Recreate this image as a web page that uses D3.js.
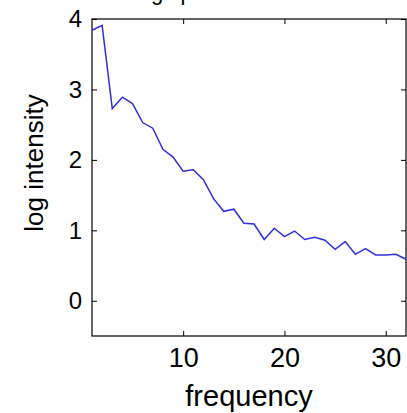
<!DOCTYPE html>
<html>
<head>
<meta charset="utf-8">
<script src="https://cdn.jsdelivr.net/npm/d3@7"></script>
<style>
  body { margin: 0; background: #fff; }
  svg { display: block; font-family: "Liberation Sans", Arial, sans-serif; }
</style>
</head>
<body>
<svg id="chart" width="407" height="413"></svg>
<script>
// values
const freq = d3.range(1, 33);
const logIntensity = [3.84, 3.91, 2.73, 2.89, 2.80, 2.53, 2.45, 2.15, 2.04, 1.84,
                      1.86, 1.72, 1.45, 1.27, 1.30, 1.10, 1.09, 0.87, 1.03, 0.91,
                      0.99, 0.87, 0.90, 0.86, 0.73, 0.84, 0.66, 0.74, 0.65, 0.65,
                      0.66, 0.59];
const xTicks = [10, 20, 30];
const yTicks = [0, 1, 2, 3, 4];

const svg = d3.select('#chart');
const margin = {left: 92, right: 1, top: 19, bottom: 77};
const width = 407, height = 413;
const innerW = width - margin.left - margin.right;
const innerH = height - margin.top - margin.bottom;

const x = d3.scaleLinear().domain([1, 32]).range([0, innerW]);
const y = d3.scaleLinear().domain([-0.5, 4]).range([innerH, 0]);

// title, mostly cut off above the picture
svg.append('text')
    .attr('x', 134).attr('y', 0)
    .attr('font-size', 22)
    .text('log spectrum');

const g = svg.append('g').attr('transform', `translate(${margin.left},${margin.top})`);

// inward ticks, matlab style
g.append('g')
    .attr('transform', `translate(0,${innerH})`)
    .call(d3.axisBottom(x).tickValues(xTicks).tickSize(-5).tickPadding(12))
    .call(a => a.select('.domain').remove())
    .call(a => a.selectAll('text').attr('font-size', 27).attr('fill', '#000'));
g.append('g')
    .call(d3.axisTop(x).tickValues(xTicks).tickSize(-5).tickFormat(''))
    .call(a => a.select('.domain').remove());
g.append('g')
    .call(d3.axisLeft(y).tickValues(yTicks).tickFormat(d3.format('d')).tickSize(-5).tickPadding(10))
    .call(a => a.select('.domain').remove())
    .call(a => a.selectAll('text').attr('font-size', 24).attr('fill', '#000'));
g.append('g')
    .attr('transform', `translate(${innerW},0)`)
    .call(d3.axisRight(y).tickValues(yTicks).tickSize(-5).tickFormat(''))
    .call(a => a.select('.domain').remove());

g.append('rect')
    .attr('width', innerW).attr('height', innerH)
    .attr('fill', 'none').attr('stroke', '#000').attr('stroke-width', 1.2);

const line = d3.line().x((d, i) => x(freq[i])).y(d => y(d));
g.append('path')
    .datum(logIntensity)
    .attr('d', line)
    .attr('fill', 'none')
    .attr('stroke', '#2f2fe0')
    .attr('stroke-width', 1.5);

svg.append('text')
    .attr('x', margin.left + innerW / 2).attr('y', 406)
    .attr('text-anchor', 'middle')
    .attr('font-size', 29)
    .text('frequency');

svg.append('text')
    .attr('transform', 'translate(43,163) rotate(-90)')
    .attr('text-anchor', 'middle')
    .attr('font-size', 26)
    .text('log intensity');
</script>
</body>
</html>
